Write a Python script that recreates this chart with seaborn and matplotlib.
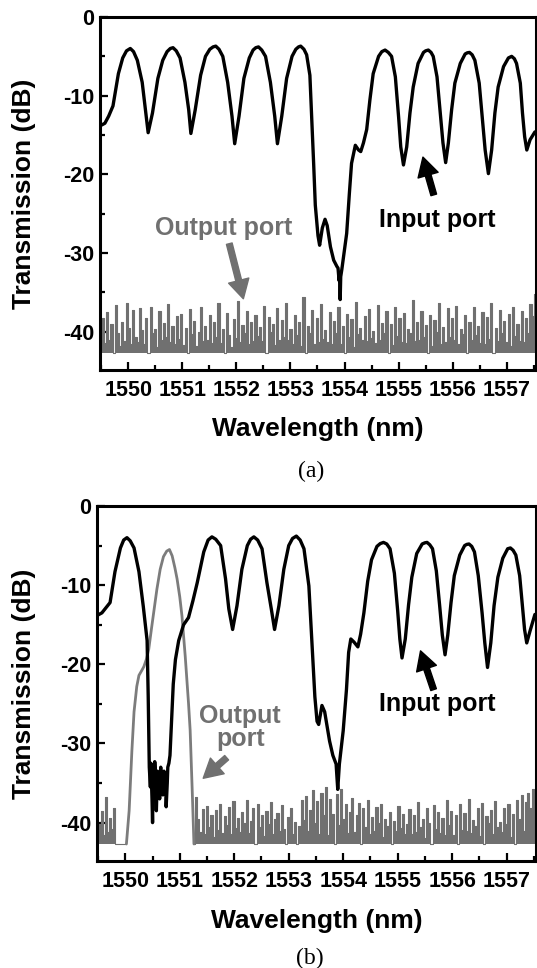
import numpy as np
import pandas as pd
import matplotlib
matplotlib.use('Agg')
import matplotlib.pyplot as plt
import seaborn as sns
from matplotlib.ticker import MultipleLocator

# ---- data ----
# (a) input port, black trace
wl_in_a = [1549.49, 1549.57, 1549.64, 1549.72, 1549.82, 1549.90, 1549.97, 1550.04,
           1550.10, 1550.17, 1550.26, 1550.32, 1550.37,
           1550.45, 1550.55, 1550.64, 1550.72, 1550.78, 1550.83,
           1550.89, 1550.96, 1551.05, 1551.12, 1551.16,
           1551.24, 1551.34, 1551.43, 1551.51, 1551.57, 1551.62,
           1551.68, 1551.75, 1551.84, 1551.92, 1551.97,
           1552.05, 1552.14, 1552.24, 1552.31, 1552.36, 1552.41,
           1552.47, 1552.54, 1552.63, 1552.71, 1552.76,
           1552.84, 1552.93, 1553.03, 1553.10, 1553.15, 1553.19,
           1553.25, 1553.30, 1553.36, 1553.39, 1553.43, 1553.46, 1553.51, 1553.54,
           1553.59, 1553.64, 1553.68, 1553.74, 1553.80, 1553.86, 1553.88,
           1553.90, 1553.91, 1553.92, 1553.93, 1553.95, 1554.04, 1554.09,
           1554.13, 1554.20, 1554.26, 1554.30, 1554.35, 1554.41, 1554.47,
           1554.53, 1554.63, 1554.69, 1554.75,
           1554.81, 1554.87, 1554.94, 1555.00, 1555.04, 1555.09,
           1555.15, 1555.21, 1555.27, 1555.36, 1555.46, 1555.50, 1555.55,
           1555.60, 1555.64, 1555.71, 1555.77, 1555.82, 1555.87,
           1555.92, 1555.98, 1556.04, 1556.14, 1556.23, 1556.27, 1556.31,
           1556.36, 1556.41, 1556.49, 1556.55, 1556.60, 1556.66,
           1556.72, 1556.78, 1556.84, 1556.94, 1557.03, 1557.09,
           1557.14, 1557.18, 1557.25, 1557.29, 1557.33, 1557.37, 1557.43, 1557.52]
db_in_a = [-13.8, -13.5, -12.6, -11.3, -7.2, -5.2, -4.3, -4.0,
           -4.4, -5.5, -8.3, -11.8, -14.7,
           -12.2, -7.8, -5.5, -4.4, -4.0, -3.9,
           -4.3, -5.2, -8.3, -11.8, -14.8,
           -11.8, -7.4, -5.0, -4.1, -3.8, -3.7,
           -4.1, -5.0, -8.3, -12.6, -16.1,
           -12.6, -7.8, -5.2, -4.2, -3.9, -3.8,
           -4.2, -5.0, -8.3, -12.6, -16.1,
           -12.6, -7.8, -5.0, -4.1, -3.8, -3.7,
           -4.1, -4.8, -7.4, -12.2, -18.7, -23.9, -27.8, -29.0,
           -26.8, -25.7, -26.5, -29.2, -30.9, -31.7, -31.9,
           -33.5, -32.8, -35.9, -33.0, -32.1, -27.5, -22.4,
           -18.6, -16.3, -16.9, -17.1, -16.0, -14.3, -10.5,
           -7.2, -5.0, -4.4, -4.2,
           -4.5, -5.0, -7.6, -12.7, -16.5, -18.8,
           -16.5, -12.2, -8.9, -5.9, -4.5, -4.3, -4.2,
           -4.5, -5.0, -7.6, -12.2, -16.0, -18.5,
           -16.0, -11.8, -8.4, -5.9, -4.7, -4.55, -4.5,
           -4.8, -5.5, -8.4, -13.1, -16.9, -19.9,
           -16.9, -12.2, -8.9, -6.3, -5.2, -5.0,
           -5.3, -5.9, -8.4, -12.2, -15.2, -16.9, -15.6, -14.6]

# (a) output port, grey noise trace (200 samples across the window)
db_out_a = [-40.5, -38.2, -41.4, -37.5, -41.0, -39.0, -42.7, -36.6, -40.2, -41.8,
            -38.7, -41.2, -36.4, -39.5, -41.6, -37.2, -40.6, -41.3, -37.0, -39.8,
            -41.5, -38.3, -42.7, -36.9, -40.1, -39.6, -41.9, -37.4, -41.1, -38.9,
            -40.7, -36.5, -41.3, -39.2, -41.5, -38.0, -40.9, -37.7, -41.7, -39.5,
            -42.7, -37.1, -40.3, -38.6, -41.8, -40.0, -36.8, -41.2, -39.3, -41.0,
            -37.9, -41.4, -38.8, -40.6, -36.4, -41.4, -39.7, -42.7, -37.6, -40.4,
            -41.9, -38.4, -40.8, -36.1, -41.3, -39.1, -40.2, -37.3, -41.6, -38.7,
            -41.2, -37.8, -40.5, -39.4, -41.2, -36.7, -42.7, -38.1, -40.0, -39.0,
            -41.7, -37.0, -41.0, -38.5, -40.7, -36.3, -41.1, -39.6, -41.5, -37.9,
            -40.4, -38.8, -41.8, -35.6, -42.7, -39.3, -40.1, -37.2, -41.5, -38.2,
            -41.3, -36.5, -40.9, -39.8, -41.3, -37.5, -41.6, -38.6, -40.2, -36.9,
            -41.6, -39.2, -42.7, -37.7, -40.6, -38.4, -41.9, -36.2, -40.3, -39.5,
            -41.1, -38.0, -41.2, -37.1, -40.8, -39.9, -41.4, -36.6, -41.0, -38.9,
            -40.1, -37.4, -42.7, -39.0, -41.7, -36.8, -40.5, -38.3, -41.3, -37.6,
            -41.4, -39.7, -40.2, -36.0, -41.2, -38.7, -41.1, -37.3, -40.6, -39.1,
            -42.7, -37.9, -41.8, -38.5, -40.0, -36.4, -41.5, -39.4, -41.3, -37.0,
            -40.7, -38.2, -41.1, -36.7, -41.5, -39.6, -40.3, -37.8, -42.7, -38.8,
            -41.0, -36.9, -40.4, -39.2, -41.4, -37.5, -41.6, -38.1, -40.9, -36.3,
            -42.7, -39.5, -41.2, -37.2, -40.1, -38.6, -41.3, -37.7, -41.8, -36.8,
            -40.5, -39.0, -41.2, -37.4, -41.3, -38.3, -40.2, -36.5, -38.0, -35.2]

# (b) input port, black trace
wl_in_b = [1549.49, 1549.57, 1549.64, 1549.72, 1549.81, 1549.91, 1549.97, 1550.03,
           1550.09, 1550.16, 1550.25, 1550.33, 1550.40, 1550.42,
           1550.44, 1550.46, 1550.47, 1550.49, 1550.50, 1550.51, 1550.53,
           1550.54, 1550.56, 1550.57, 1550.59, 1550.60, 1550.62, 1550.63,
           1550.65, 1550.66, 1550.68, 1550.69, 1550.71, 1550.72, 1550.74,
           1550.75, 1550.77, 1550.78, 1550.80, 1550.82,
           1550.85, 1550.88, 1550.92, 1550.98, 1551.07, 1551.16,
           1551.24, 1551.32, 1551.44, 1551.52, 1551.59,
           1551.66, 1551.75, 1551.84, 1551.90, 1551.97,
           1552.05, 1552.14, 1552.24, 1552.30, 1552.36,
           1552.43, 1552.51, 1552.60, 1552.68, 1552.74,
           1552.82, 1552.91, 1553.00, 1553.07, 1553.14,
           1553.21, 1553.28, 1553.37, 1553.43, 1553.48, 1553.52, 1553.55,
           1553.61, 1553.66, 1553.75, 1553.81, 1553.87, 1553.90, 1553.93,
           1554.00, 1554.06, 1554.10, 1554.14, 1554.20, 1554.27, 1554.32,
           1554.38, 1554.45, 1554.52, 1554.62, 1554.68, 1554.74,
           1554.80, 1554.86, 1554.94, 1555.00, 1555.04, 1555.08,
           1555.14, 1555.20, 1555.26, 1555.35, 1555.45, 1555.50, 1555.54,
           1555.59, 1555.64, 1555.71, 1555.77, 1555.82, 1555.87,
           1555.92, 1555.98, 1556.04, 1556.14, 1556.23, 1556.27, 1556.31,
           1556.36, 1556.41, 1556.48, 1556.55, 1556.60, 1556.65,
           1556.71, 1556.77, 1556.84, 1556.93, 1557.02, 1557.07,
           1557.12, 1557.17, 1557.24, 1557.29, 1557.33, 1557.37, 1557.43, 1557.52]
db_in_b = [-13.8, -13.5, -12.9, -12.2, -8.3, -5.3, -4.3, -4.0,
           -4.4, -5.3, -8.3, -12.7, -17.0, -24.0,
           -33.0, -35.5, -32.5, -37.0, -40.0, -34.0, -36.5,
           -32.3, -35.0, -38.5, -33.5, -36.0, -34.0, -37.0,
           -33.0, -35.5, -34.0, -36.5, -33.5, -35.0, -34.5,
           -38.0, -35.0, -33.0, -32.5, -31.5,
           -27.0, -22.5, -19.4, -17.0, -15.0, -14.1,
           -12.0, -9.7, -5.8, -4.3, -3.9,
           -4.2, -5.0, -9.2, -13.0, -15.6,
           -12.6, -8.0, -5.0, -4.2, -3.9,
           -4.3, -5.4, -9.7, -13.0, -15.6,
           -12.6, -8.0, -5.0, -4.1, -3.8,
           -4.3, -5.4, -10.1, -17.7, -24.1, -27.2, -27.6,
           -25.2, -26.0, -29.7, -31.5, -32.6, -35.8, -32.6,
           -28.4, -23.2, -18.5, -16.8, -17.2, -17.8, -16.2,
           -13.5, -9.5, -6.8, -5.1, -4.75, -4.6,
           -4.8, -5.4, -8.5, -13.2, -16.8, -19.2,
           -16.8, -12.5, -9.0, -6.0, -4.8, -4.65, -4.6,
           -4.9, -5.4, -8.2, -12.5, -16.3, -18.8,
           -16.3, -12.2, -8.8, -6.2, -5.0, -4.85, -4.8,
           -5.1, -5.8, -8.8, -13.5, -17.3, -20.4,
           -17.3, -12.6, -9.0, -6.6, -5.4, -5.3,
           -5.6, -6.2, -8.8, -12.6, -15.6, -17.3, -15.8, -13.7]

# (b) output port: noise left of the drop band, the drop peak, noise to the right
wl_out_b_left = [1549.49, 1549.53, 1549.57, 1549.61, 1549.64, 1549.68,
                 1549.72, 1549.75, 1549.79, 1549.83, 1550.02]
db_out_b_left = [-41.3, -40.2, -38.5, -41.6, -36.8, -41.2,
                 -39.4, -40.8, -38.1, -42.7, -42.7]
wl_drop_b = [1550.02, 1550.07, 1550.12, 1550.16, 1550.21, 1550.25, 1550.30,
             1550.34, 1550.39, 1550.43, 1550.48, 1550.52, 1550.58, 1550.64,
             1550.70, 1550.76, 1550.81, 1550.86, 1550.91, 1550.95, 1551.00,
             1551.04, 1551.10, 1551.16, 1551.19, 1551.23, 1551.26]
db_drop_b = [-42.7, -38.5, -31.0, -26.0, -22.8, -21.4, -20.8,
             -20.3, -19.3, -18.1, -15.5, -13.5, -10.5, -8.0,
             -6.4, -5.7, -5.5, -6.3, -7.8, -9.2, -11.5,
             -13.9, -19.0, -24.9, -28.3, -36.3, -42.7]
db_out_b_right = [-42.7, -36.8, -39.5, -41.2, -38.3, -41.4, -37.9, -40.6, -39.1, -41.8,
                  -38.4, -40.9, -37.6, -41.3, -39.2, -40.3, -38.0, -41.5, -37.3, -40.7,
                  -39.4, -41.2, -38.6, -40.1, -37.1, -41.3, -39.8, -38.2, -42.7, -37.7,
                  -40.5, -39.0, -41.7, -38.5, -40.2, -37.4, -41.4, -39.6, -38.8, -41.0,
                  -37.8, -40.8, -42.7, -39.3, -38.1, -41.4, -39.9, -42.7, -40.4, -37.2,
                  -39.7, -36.6, -41.1, -38.4, -35.9, -40.0, -37.3, -41.5, -36.2, -39.1,
                  -35.5, -41.6, -37.0, -38.9, -42.7, -36.4, -40.3, -35.8, -39.5, -37.6,
                  -41.3, -38.7, -36.9, -41.2, -39.0, -37.5, -42.7, -38.2, -40.6, -37.1,
                  -41.5, -39.3, -41.1, -38.0, -40.1, -37.7, -41.8, -39.6, -40.4, -38.6,
                  -42.7, -39.8, -41.0, -37.9, -40.7, -38.9, -41.4, -40.2, -38.3, -41.4,
                  -39.1, -41.2, -37.4, -40.5, -39.5, -41.9, -38.1, -40.0, -42.7, -37.8,
                  -40.8, -38.7, -41.3, -39.4, -41.6, -37.2, -40.3, -38.5, -41.6, -39.0,
                  -42.7, -37.6, -40.9, -38.8, -41.1, -37.0, -41.3, -39.7, -40.4, -38.2,
                  -41.7, -37.5, -42.7, -39.2, -40.1, -38.4, -41.4, -37.3, -40.6, -39.9,
                  -41.2, -38.1, -40.2, -37.7, -41.8, -38.9, -42.7, -37.1, -39.6, -36.5,
                  -41.0, -37.4, -36.3, -38.2, -35.8, -39.0]

noise_floor = -42.7
x_ticks = [1550, 1551, 1552, 1553, 1554, 1555, 1556, 1557]
y_ticks = [-40, -30, -20, -10, 0]

GREY = '#707070'
GREY_DROP = '#7c7c7c'

sns.set_theme(style='ticks')
plt.rcParams['font.family'] = ['Liberation Sans', 'DejaVu Sans']
plt.rcParams['font.weight'] = 'bold'
plt.rcParams['axes.labelweight'] = 'bold'
plt.rcParams['axes.unicode_minus'] = False
plt.rcParams['text.color'] = 'black'
plt.rcParams['axes.labelcolor'] = 'black'
plt.rcParams['xtick.color'] = 'black'
plt.rcParams['ytick.color'] = 'black'


def style_axes(ax):
    ax.set_xlim(1549.48, 1557.54)
    ax.set_ylim(-44.85, 0)
    ax.set_xticks(x_ticks)
    ax.set_yticks(y_ticks)
    ax.xaxis.set_minor_locator(MultipleLocator(0.5))
    ax.yaxis.set_minor_locator(MultipleLocator(5))
    ax.tick_params(which='both', direction='in', top=False, right=False,
                   width=1.6, labelsize=15.5, colors='black')
    ax.tick_params(which='major', length=6)
    ax.tick_params(which='minor', length=3.5)
    ax.tick_params(axis='x', pad=7)
    ax.tick_params(axis='y', pad=4)
    for lab in ax.get_xticklabels() + ax.get_yticklabels():
        lab.set_fontweight('bold')
    for sp in ax.spines.values():
        sp.set_visible(True)
        sp.set_linewidth(2.2)
        sp.set_color('black')
    ax.set_xlabel('Wavelength (nm)', fontsize=19, fontweight='bold', color='black')
    ax.set_ylabel('Transmission (dB)', fontsize=19, fontweight='bold', color='black')


def draw_noise(ax, df):
    # dense OSA noise trace: thin vertical spikes over a solid grey floor
    ax.fill_between(df['wl'], noise_floor, df['db'], step='mid', color=GREY, linewidth=0)
    sns.lineplot(data=df, x='wl', y='db', ax=ax, color=GREY, linewidth=0.8,
                 estimator=None, sort=False, drawstyle='steps-mid')


def draw_input(ax, df):
    sns.lineplot(data=df, x='wl', y='db', ax=ax, color='black', linewidth=2.4,
                 estimator=None, sort=False, solid_joinstyle='round')


def add_arrow(ax, tip, tail, color):
    ax.annotate('', xy=tip, xytext=tail,
                arrowprops=dict(arrowstyle='simple,head_length=0.9,head_width=1.0,tail_width=0.28',
                                color=color, mutation_scale=15, shrinkA=0, shrinkB=0))


fig = plt.figure(figsize=(5.37, 9.68), dpi=100)

# ---------- (a) ----------
ax1 = fig.add_axes([100 / 537, 1 - 370 / 968, 436 / 537, 353 / 968])
noise_a = pd.DataFrame({'wl': np.linspace(1549.49, 1557.52, len(db_out_a)), 'db': db_out_a})
draw_noise(ax1, noise_a)
draw_input(ax1, pd.DataFrame({'wl': wl_in_a, 'db': db_in_a}))
style_axes(ax1)
ax1.xaxis.set_label_coords(0.5, -0.133)
ax1.yaxis.set_label_coords(-0.147, 0.5)
ax1.text(1555.72, -25.8, 'Input port', fontsize=18, fontweight='bold',
         color='black', ha='center', va='center')
add_arrow(ax1, (1555.45, -17.8), (1555.65, -22.6), 'black')
ax1.text(1551.77, -26.8, 'Output port', fontsize=18, fontweight='bold',
         color=GREY, ha='center', va='center')
add_arrow(ax1, (1552.13, -35.8), (1551.87, -28.8), GREY)

# ---------- (b) ----------
ax2 = fig.add_axes([97 / 537, 1 - 861 / 968, 439 / 537, 355 / 968])
draw_noise(ax2, pd.DataFrame({'wl': wl_out_b_left, 'db': db_out_b_left}))
right_b = pd.DataFrame({'wl': np.linspace(1551.26, 1557.52, len(db_out_b_right)),
                        'db': db_out_b_right})
draw_noise(ax2, right_b)
drop_b = pd.DataFrame({'wl': wl_drop_b, 'db': db_drop_b})
sns.lineplot(data=drop_b, x='wl', y='db', ax=ax2, color=GREY_DROP, linewidth=2.0,
             estimator=None, sort=False)
draw_input(ax2, pd.DataFrame({'wl': wl_in_b, 'db': db_in_b}))
style_axes(ax2)
ax2.xaxis.set_label_coords(0.5, -0.135)
ax2.yaxis.set_label_coords(-0.139, 0.5)
ax2.text(1555.72, -25.0, 'Input port', fontsize=18, fontweight='bold',
         color='black', ha='center', va='center')
add_arrow(ax2, (1555.42, -18.3), (1555.66, -23.2), 'black')
ax2.text(1552.11, -28.0, 'Output\nport', fontsize=18, fontweight='bold',
         color=GREY, ha='center', va='center', linespacing=0.95)
add_arrow(ax2, (1551.43, -34.4), (1551.86, -31.8), GREY)

serif = ['Liberation Serif', 'DejaVu Serif']
fig.text(0.579, 1 - 471 / 968, '(a)', fontsize=17, family=serif,
         fontweight='normal', ha='center', va='center')
fig.text(0.577, 1 - 958 / 968, '(b)', fontsize=17, family=serif,
         fontweight='normal', ha='center', va='center')

fig.savefig('out.png', dpi=100)
plt.close(fig)
